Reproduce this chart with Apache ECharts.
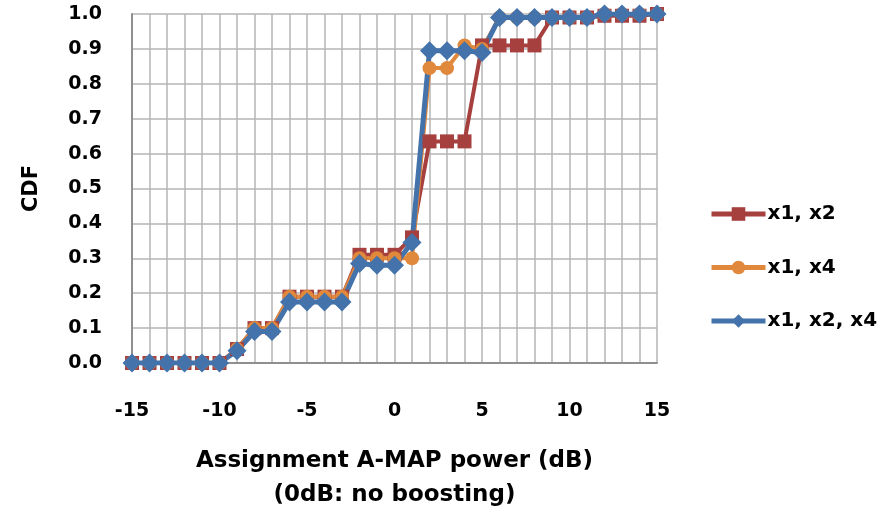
<!DOCTYPE html>
<html>
<head>
<meta charset="utf-8">
<script src="https://cdn.jsdelivr.net/npm/echarts@6/dist/echarts.min.js"></script>
<style>
  html, body { margin: 0; padding: 0; background: #fff; }
  #chart { width: 894px; height: 512px; }
</style>
</head>
<body>
<div id="chart"></div>
<script>
// x positions (dB) and CDF values per curve
const powerDb = [-15, -14, -13, -12, -11, -10, -9, -8, -7, -6, -5, -4, -3, -2, -1, 0,
                 1, 2, 3, 4, 5, 6, 7, 8, 9, 10, 11, 12, 13, 14, 15];
const cdfX1X2 = [0, 0, 0, 0, 0, 0, 0.04, 0.1, 0.1, 0.19, 0.19, 0.19, 0.19, 0.31, 0.31, 0.31,
                 0.36, 0.635, 0.635, 0.635, 0.91, 0.91, 0.91, 0.91, 0.99, 0.99, 0.99, 0.995, 0.995, 0.995, 1.0];
const cdfX1X4 = [0, 0, 0, 0, 0, 0, 0.04, 0.1, 0.1, 0.19, 0.19, 0.19, 0.19, 0.3, 0.3, 0.3,
                 0.3, 0.845, 0.845, 0.91, 0.9, 0.99, 0.99, 0.99, 0.99, 0.99, 0.99, 1.0, 1.0, 1.0, 1.0];
const cdfX1X2X4 = [0, 0, 0, 0, 0, 0, 0.035, 0.09, 0.09, 0.175, 0.175, 0.175, 0.175, 0.285, 0.28, 0.28,
                   0.345, 0.895, 0.895, 0.895, 0.89, 0.99, 0.99, 0.99, 0.99, 0.99, 0.99, 1.0, 1.0, 1.0, 1.0];
const seriesNames = ['x1, x2', 'x1, x4', 'x1, x2, x4'];

const font = 'DejaVu Sans';
const gridColor = '#b5b5b5';

const chart = echarts.init(document.getElementById('chart'));

const pairs = vals => powerDb.map((x, i) => [x, vals[i]]);

chart.setOption({
    animation: false,
    grid: { left: 132, right: 237, top: 14, bottom: 149, outerBoundsMode: 'none', containLabel: false },
    legend: {
        orient: 'vertical',
        left: 709,
        top: 204,
        padding: 0,
        itemWidth: 54,
        itemHeight: 17,
        itemGap: 33.5,
        data: seriesNames,
        lineStyle: { width: 5 },
        textStyle: { fontFamily: font, fontWeight: 'bold', fontSize: 20, color: '#000', padding: [0, 0, 0, -3] },
    },
    xAxis: {
        type: 'value',
        min: -15,
        max: 15,
        interval: 1,
        name: 'Assignment A-MAP power (dB)\n(0dB: no boosting)',
        nameLocation: 'middle',
        nameGap: 81,
        nameTextStyle: { fontFamily: font, fontWeight: 'bold', fontSize: 23, lineHeight: 34, color: '#000' },
        axisLine: { onZero: false, lineStyle: { color: '#8f8f8f', width: 2 } },
        axisTick: { show: false },
        axisLabel: {
            margin: 39,
            fontFamily: font, fontWeight: 'bold', fontSize: 19, color: '#000',
            formatter: v => (v % 5 === 0 ? String(v) : ''),
        },
        splitLine: { show: true, lineStyle: { color: gridColor, width: 1.5 } },
    },
    yAxis: {
        type: 'value',
        min: 0,
        max: 1,
        interval: 0.1,
        name: 'CDF',
        nameLocation: 'middle',
        nameGap: 90,
        nameTextStyle: { fontFamily: font, fontWeight: 'bold', fontSize: 21, color: '#000' },
        axisLine: { show: true, onZero: false, lineStyle: { color: '#8f8f8f', width: 2 } },
        axisTick: { show: false },
        axisLabel: {
            margin: 30,
            fontFamily: font, fontWeight: 'bold', fontSize: 19, color: '#000',
            formatter: v => v.toFixed(1),
        },
        splitLine: { show: true, lineStyle: { color: gridColor, width: 1.5 } },
    },
    series: [
        {
            name: seriesNames[0],
            type: 'line',
            data: pairs(cdfX1X2),
            symbol: 'rect',
            symbolSize: 14,
            color: '#a5403e',
            lineStyle: { width: 4 },
        },
        {
            name: seriesNames[1],
            type: 'line',
            data: pairs(cdfX1X4),
            symbol: 'circle',
            symbolSize: 14,
            color: '#e0883b',
            lineStyle: { width: 4 },
        },
        {
            name: seriesNames[2],
            type: 'line',
            data: pairs(cdfX1X2X4),
            symbol: 'diamond',
            symbolSize: 19,
            color: '#4472ab',
            lineStyle: { width: 5 },
        },
    ],
});
</script>
</body>
</html>
